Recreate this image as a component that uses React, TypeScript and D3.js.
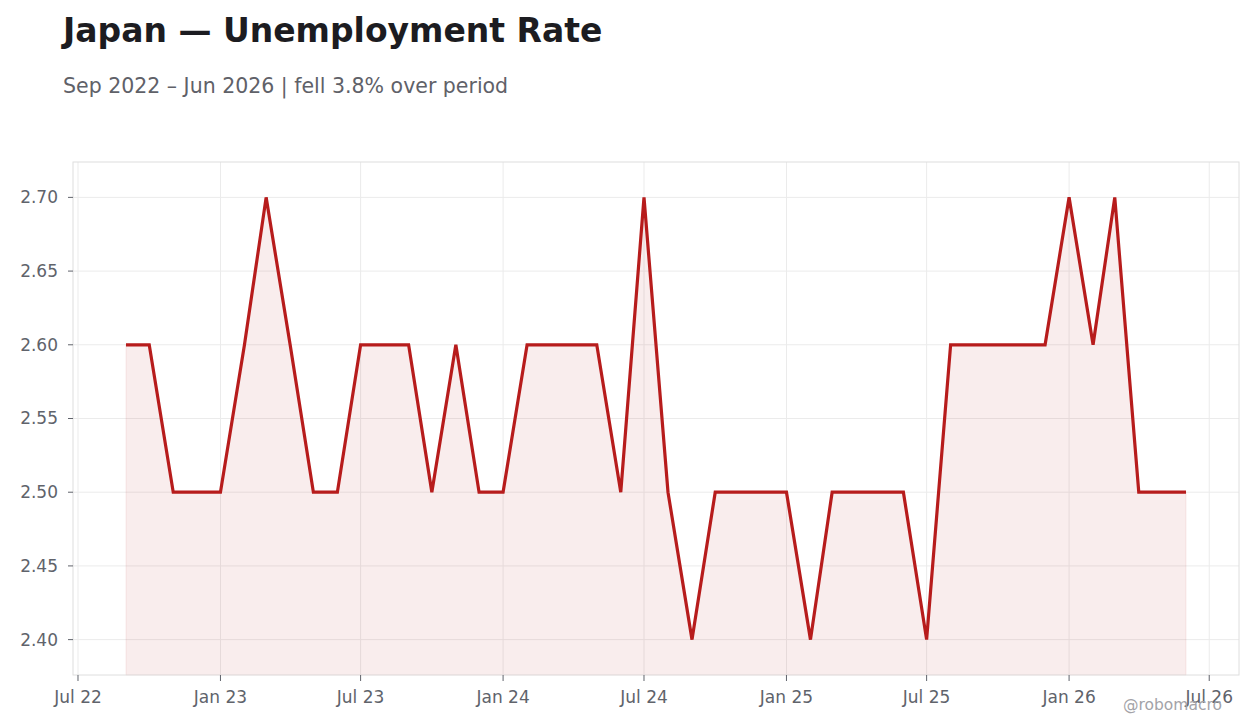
import React from "react";
import * as d3 from "d3";

const TITLE = "Japan — Unemployment Rate";
const SUBTITLE = "Sep 2022 – Jun 2026 | fell 3.8% over period";
const WATERMARK = "@robomacro";

const START_YEAR = 2022;
const START_MONTH = 8; // September (0-based)
const rates: number[] = [
  2.6, 2.6, 2.5, 2.5, // Sep–Dec 2022
  2.5, 2.6, 2.7, 2.6, 2.5, 2.5, 2.6, 2.6, 2.6, 2.5, 2.6, 2.5, // 2023
  2.5, 2.6, 2.6, 2.6, 2.6, 2.5, 2.7, 2.5, 2.4, 2.5, 2.5, 2.5, // 2024
  2.5, 2.4, 2.5, 2.5, 2.5, 2.5, 2.4, 2.6, 2.6, 2.6, 2.6, 2.6, // 2025
  2.7, 2.6, 2.7, 2.5, 2.5, 2.5, // Jan–Jun 2026
];
const yTicks: number[] = [2.4, 2.45, 2.5, 2.55, 2.6, 2.65, 2.7];
const yDomain: [number, number] = [2.376, 2.724];

const W = 1260;
const H = 728;
const M = { left: 73, right: 21, top: 162, bottom: 53 };
const LINE = "#b71c1c";

export default function App() {
  const data = rates.map((v, i) => ({ date: new Date(START_YEAR, START_MONTH + i, 1), value: v }));
  const t0 = data[0].date.getTime();
  const t1 = data[data.length - 1].date.getTime();
  const pad = (t1 - t0) * 0.05;
  const x = d3
    .scaleTime()
    .domain([new Date(t0 - pad), new Date(t1 + pad)])
    .range([M.left, W - M.right]);
  const y = d3.scaleLinear().domain(yDomain).range([H - M.bottom, M.top]);
  const xTicks = d3.timeMonth.every(6)!.range(new Date(2022, 6, 1), new Date(2026, 7, 1));
  const fmt = d3.timeFormat("%b %y");

  const line = d3
    .line<{ date: Date; value: number }>()
    .x((d) => x(d.date))
    .y((d) => y(d.value));
  const area = d3
    .area<{ date: Date; value: number }>()
    .x((d) => x(d.date))
    .y0(H - M.bottom)
    .y1((d) => y(d.value));

  const font = "'DejaVu Sans', sans-serif";
  const tickColor = "#60636b";
  const x0 = M.left;
  const x1 = W - M.right;
  const yb = H - M.bottom;

  return (
    <svg
      width={W}
      height={H}
      style={{ position: "absolute", left: 0, top: 0, background: "#fff" }}
      fontFamily={font}
    >
      <text x={63} y={42} fontSize={33} fontWeight="bold" fill="#1c1c21">
        {TITLE}
      </text>
      <text x={63} y={93} fontSize={20.5} fill="#5f6168">
        {SUBTITLE}
      </text>

      {/* gridlines */}
      <g stroke="#ebebeb" strokeWidth={1}>
        {yTicks.map((t) => (
          <line key={"gy" + t} x1={x0} x2={x1} y1={y(t)} y2={y(t)} />
        ))}
        {xTicks.map((t) => (
          <line key={"gx" + t.getTime()} x1={x(t)} x2={x(t)} y1={M.top} y2={yb} />
        ))}
      </g>

      <path d={area(data)!} fill={LINE} fillOpacity={0.08} stroke={LINE} strokeOpacity={0.08} strokeWidth={1} />
      <path d={line(data)!} fill="none" stroke={LINE} strokeWidth={3.2} strokeLinejoin="miter" strokeLinecap="butt" />

      <rect x={x0} y={M.top} width={x1 - x0} height={yb - M.top} fill="none" stroke="#dedede" strokeWidth={1} />

      {/* y axis */}
      <g fontSize={17} fill={tickColor}>
        {yTicks.map((t) => (
          <g key={"ty" + t}>
            <line x1={x0 - 5} x2={x0} y1={y(t)} y2={y(t)} stroke={tickColor} strokeWidth={1} />
            <text x={x0 - 15} y={y(t)} dy="0.35em" textAnchor="end">
              {d3.format(".2f")(t)}
            </text>
          </g>
        ))}
      </g>

      {/* x axis */}
      <g fontSize={17} fill={tickColor}>
        {xTicks.map((t) => (
          <g key={"tx" + t.getTime()}>
            <line x1={x(t)} x2={x(t)} y1={yb} y2={yb + 6} stroke={tickColor} strokeWidth={1} />
            <text x={x(t)} y={yb + 28} textAnchor="middle">
              {fmt(t)}
            </text>
          </g>
        ))}
      </g>

      <text x={1222} y={710} fontSize={15.5} textAnchor="end" fill="#a3a3a8">
        {WATERMARK}
      </text>
    </svg>
  );
}
